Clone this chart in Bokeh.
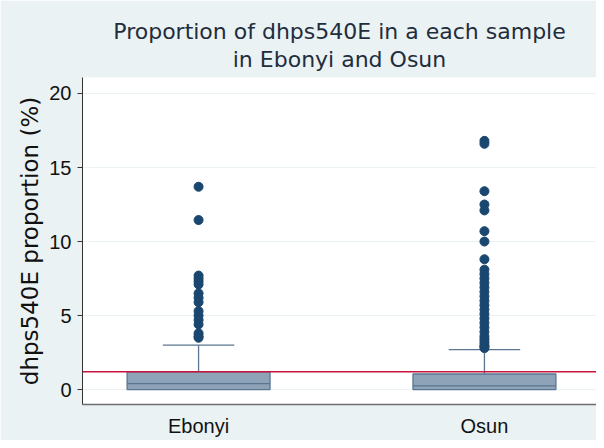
from bokeh.plotting import figure
from bokeh.models import Range1d, Span, Title, ColumnDataSource, FixedTicker
from bokeh.embed import file_html
from bokeh.resources import INLINE

# ---- data ----
categories = ["Ebonyi", "Osun"]
q1 = [0.0, 0.0]
median = [0.4, 0.25]
q3 = [1.2, 1.05]
lower_whisker = [0.0, 0.0]
upper_whisker = [3.0, 2.7]
ebonyi_outliers = [13.7, 11.45, 7.7, 7.5, 7.3, 7.1, 6.5, 6.2, 5.9, 5.3, 5.0, 4.7, 4.4, 3.8, 3.6, 3.5]
osun_outliers = [16.8, 16.6, 13.4, 12.5, 12.1, 10.7, 10.0, 8.8, 8.1, 7.8, 7.5, 7.2, 6.9, 6.6,
                 6.3, 6.0, 5.7, 5.4, 5.1, 4.8, 4.5, 4.2, 3.9, 3.6, 3.4, 3.2, 3.0, 2.9, 2.8]
reference_line = 1.2
y_ticks = [0, 5, 10, 15, 20]

FONT = "Liberation Sans"
TFONT = "DejaVu Sans"
BG = "#eaf2f3"
BOX_FILL = "#8ea3b8"
BOX_LINE = "#5b7690"
DOT = "#1a476f"

xpos = [i + 1 for i in range(len(categories))]
box_w = 0.5
cap_w = 0.25

p = figure(width=596, height=440, output_backend="svg", toolbar_location=None,
           x_range=Range1d(0.594, 2.392), y_range=Range1d(-1.01, 21.08),
           min_border_left=82, min_border_right=0, min_border_top=77, min_border_bottom=36)

p.background_fill_color = "white"
p.border_fill_color = BG
p.outline_line_color = None

# titles (second line added first -> closest to frame)
p.add_layout(Title(text="in Ebonyi and Osun", align="center", text_font=TFONT,
                   text_font_size="22px", text_font_style="normal", text_color="#1f2d3d",
                   standoff=12), "above")
p.add_layout(Title(text="Proportion of dhps540E in a each sample", align="center", text_font=TFONT,
                   text_font_size="22px", text_font_style="normal", text_color="#1f2d3d",
                   standoff=-11), "above")

# reference line
p.add_layout(Span(location=reference_line, dimension="width", line_color="#c8143c", line_width=1.5))

box_src = ColumnDataSource(dict(x=xpos, q1=q1, q3=q3, med=median, lw=lower_whisker, uw=upper_whisker,
                                cap_l=[x - cap_w / 2 for x in xpos], cap_r=[x + cap_w / 2 for x in xpos],
                                box_l=[x - box_w / 2 for x in xpos], box_r=[x + box_w / 2 for x in xpos]))

# whiskers
p.segment(x0="x", y0="q3", x1="x", y1="uw", source=box_src, line_color=BOX_LINE, line_width=1.3)
p.segment(x0="x", y0="q1", x1="x", y1="lw", source=box_src, line_color=BOX_LINE, line_width=1.3)
p.segment(x0="cap_l", y0="uw", x1="cap_r", y1="uw", source=box_src, line_color=BOX_LINE, line_width=1.3)

# boxes
p.vbar(x="x", width=box_w, bottom="q1", top="q3", source=box_src,
       fill_color=BOX_FILL, line_color=BOX_LINE, line_width=1.3)
p.segment(x0="box_l", y0="med", x1="box_r", y1="med", source=box_src, line_color=BOX_LINE, line_width=1.3)

# outliers
ox = [xpos[0]] * len(ebonyi_outliers) + [xpos[1]] * len(osun_outliers)
oy = ebonyi_outliers + osun_outliers
p.scatter(ox, oy, size=9, fill_color=DOT, line_color=DOT)

# axes
p.xaxis.ticker = FixedTicker(ticks=xpos)
p.xaxis.major_label_overrides = {x: c for x, c in zip(xpos, categories)}
p.xaxis.major_tick_line_color = None
p.xaxis.major_tick_out = 0
p.xaxis.major_tick_in = 0
p.xaxis.minor_tick_line_color = None
p.xaxis.axis_line_color = "#6e6e6e"
p.xaxis.axis_line_width = 1.3
p.xaxis.major_label_text_font = FONT
p.xaxis.major_label_text_font_size = "20px"
p.xaxis.major_label_text_color = "#111111"
p.xaxis.major_label_standoff = 10

p.yaxis.ticker = FixedTicker(ticks=y_ticks)
p.yaxis.minor_tick_line_color = None
p.yaxis.major_tick_out = 5
p.yaxis.major_tick_in = 0
p.yaxis.major_tick_line_color = "#333333"
p.yaxis.axis_line_color = "#333333"
p.yaxis.major_label_text_font = FONT
p.yaxis.major_label_text_font_size = "20px"
p.yaxis.major_label_text_color = "#111111"
p.yaxis.major_label_standoff = 6
p.yaxis.axis_label = "dhps540E proportion (%)"
p.yaxis.axis_label_text_font = TFONT
p.yaxis.axis_label_text_font_size = "23px"
p.yaxis.axis_label_text_font_style = "normal"
p.yaxis.axis_label_text_color = "#111111"
p.yaxis.axis_label_standoff = 3

p.xgrid.grid_line_color = None
p.ygrid.ticker = FixedTicker(ticks=y_ticks)
p.ygrid.grid_line_color = BG
p.ygrid.grid_line_width = 1

open("out.html", "w").write(file_html(p, INLINE))
